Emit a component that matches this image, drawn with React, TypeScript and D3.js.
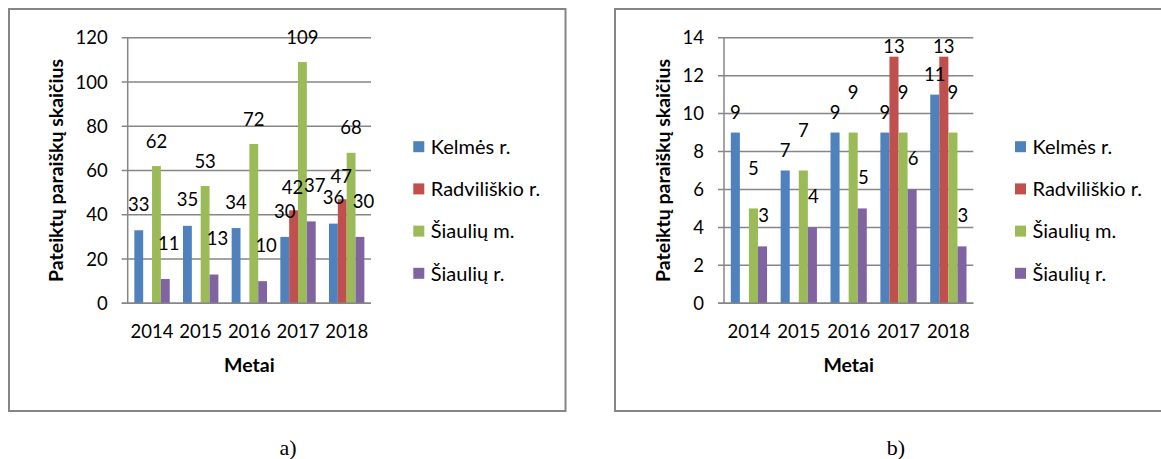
import React from "react";
import * as d3 from "d3";

const years = ["2014", "2015", "2016", "2017", "2018"];
const seriesNames = ["Kelmės r.", "Radviliškio r.", "Šiaulių m.", "Šiaulių r."];
const colors = ["#4F81BD", "#C0504D", "#9BBB59", "#8064A2"];

// chart a)
const aKelmes = [33, 35, 34, 30, 36];
const aRadviliskio = [null, null, null, 42, 47];
const aSiauliuM = [62, 53, 72, 109, 68];
const aSiauliuR = [11, 13, 10, 37, 30];
const aTicks = [0, 20, 40, 60, 80, 100, 120];

// chart b)
const bKelmes = [9, 7, 9, 9, 11];
const bRadviliskio = [null, null, null, 13, 13];
const bSiauliuM = [5, 7, 9, 9, 9];
const bSiauliuR = [3, 4, 5, 6, 3];
const bTicks = [0, 2, 4, 6, 8, 10, 12, 14];

const yTitle = "Pateiktų paraiškų skaičius";
const xTitle = "Metai";

const FONT = "Lato, 'Open Sans', sans-serif";
const NUM_SIZE = 18.5;
const LEGEND_SIZE = 20;
const TITLE_SIZE = 19.5;

type ChartProps = {
  series: (number | null)[][];
  ticks: number[];
  frame: { x: number; y: number; w: number; h: number };
  plot: { x0: number; x1: number; y0: number; y1: number };
  yTitleX: number;
  legendX: number;
  labelOffsets: number[];
  labelDx: number[];
  caption: string;
  captionX: number;
};

function Chart(p: ChartProps) {
  const yMax = p.ticks[p.ticks.length - 1];
  const y = d3.scaleLinear().domain([0, yMax]).range([p.plot.y0, p.plot.y1]);
  const x = d3.scaleBand().domain(years).range([p.plot.x0, p.plot.x1]).padding(0);
  const bw = x.bandwidth();
  const xs = d3
    .scaleBand()
    .domain(seriesNames)
    .range([(bw * 0.75) / 5.5, (bw * 4.75) / 5.5])
    .padding(0);
  const cx = (p.plot.x0 + p.plot.x1) / 2;
  const cy = (p.plot.y0 + p.plot.y1) / 2;
  return (
    <g>
      <rect
        x={p.frame.x}
        y={p.frame.y}
        width={p.frame.w}
        height={p.frame.h}
        fill="#fff"
        stroke="#868686"
        strokeWidth={2}
      />
      {p.ticks.map((t) => (
        <g key={t}>
          <line
            x1={p.plot.x0 - 6}
            x2={p.plot.x1}
            y1={y(t)}
            y2={y(t)}
            stroke="#868686"
            strokeWidth={1.5}
          />
          <text
            x={p.plot.x0 - 20}
            y={y(t)}
            dy="0.36em"
            textAnchor="end"
            fontFamily={FONT}
            fontSize={NUM_SIZE}
            fill="#000"
          >
            {t}
          </text>
        </g>
      ))}
      <line
        x1={p.plot.x0}
        x2={p.plot.x0}
        y1={p.plot.y1}
        y2={p.plot.y0}
        stroke="#868686"
        strokeWidth={1.5}
      />
      {p.series.map((vals, si) =>
        vals.map((v, i) =>
          v == null ? null : (
            <rect
              key={`b${si}-${i}`}
              x={(x(years[i]) as number) + (xs(seriesNames[si]) as number)}
              y={y(v)}
              width={xs.bandwidth()}
              height={p.plot.y0 - y(v)}
              fill={colors[si]}
            />
          )
        )
      )}
      <line
        x1={p.plot.x0 - 6}
        x2={p.plot.x1}
        y1={p.plot.y0}
        y2={p.plot.y0}
        stroke="#868686"
        strokeWidth={1.5}
      />
      {p.series.map((vals, si) =>
        vals.map((v, i) =>
          v == null ? null : (
            <text
              key={`l${si}-${i}`}
              x={
                (x(years[i]) as number) +
                (xs(seriesNames[si]) as number) +
                xs.bandwidth() / 2 +
                p.labelDx[si]
              }
              y={y(v) - p.labelOffsets[si]}
              dy="0.36em"
              textAnchor="middle"
              fontFamily={FONT}
              fontSize={NUM_SIZE}
              fill="#000"
            >
              {v}
            </text>
          )
        )
      )}
      {years.map((yr) => (
        <text
          key={yr}
          x={(x(yr) as number) + bw / 2}
          y={p.plot.y0 + 34.5}
          textAnchor="middle"
          fontFamily={FONT}
          fontSize={NUM_SIZE}
          fill="#000"
        >
          {yr}
        </text>
      ))}
      <text
        x={cx}
        y={p.plot.y0 + 69}
        textAnchor="middle"
        fontFamily={FONT}
        fontWeight="bold"
        fontSize={TITLE_SIZE}
        fill="#000"
      >
        {xTitle}
      </text>
      <text
        transform={`translate(${p.yTitleX},${cy}) rotate(-90)`}
        textAnchor="middle"
        dy="0.36em"
        fontFamily={FONT}
        fontWeight="bold"
        fontSize={TITLE_SIZE}
        fill="#000"
      >
        {yTitle}
      </text>
      {seriesNames.map((s, i) => (
        <g key={s} transform={`translate(${p.legendX},${146.7 + i * 42.2})`}>
          <rect x={0} y={-5.5} width={11} height={11} fill={colors[i]} />
          <text x={17.5} y={0} dy="0.36em" fontFamily={FONT} fontSize={LEGEND_SIZE} fill="#000">
            {s}
          </text>
        </g>
      ))}
      <text
        x={p.captionX}
        y={455}
        textAnchor="middle"
        fontFamily="'Liberation Serif', 'Times New Roman', serif"
        fontSize={22}
        fill="#000"
      >
        {p.caption}
      </text>
    </g>
  );
}

export default function App() {
  return (
    <svg
      width={1161}
      height={459}
      style={{ position: "absolute", left: 0, top: 0, background: "#fff" }}
    >
      <Chart
        series={[aKelmes, aRadviliskio, aSiauliuM, aSiauliuR]}
        ticks={aTicks}
        frame={{ x: 9, y: 9, w: 556.5, h: 402 }}
        plot={{ x0: 127.7, x1: 371, y0: 303.3, y1: 37.7 }}
        yTitleX={56}
        legendX={413.3}
        labelOffsets={[26, 23, 25, 36]}
        labelDx={[0, -1, 0, 3.5]}
        caption="a)"
        captionX={288}
      />
      <Chart
        series={[bKelmes, bRadviliskio, bSiauliuM, bSiauliuR]}
        ticks={bTicks}
        frame={{ x: 615, y: 9, w: 560, h: 402 }}
        plot={{ x0: 724, x1: 973.3, y0: 303.3, y1: 37.7 }}
        yTitleX={662.5}
        legendX={1015}
        labelOffsets={[20, 10, 40, 31]}
        labelDx={[0, 0, 0, 1]}
        caption="b)"
        captionX={896}
      />
    </svg>
  );
}
